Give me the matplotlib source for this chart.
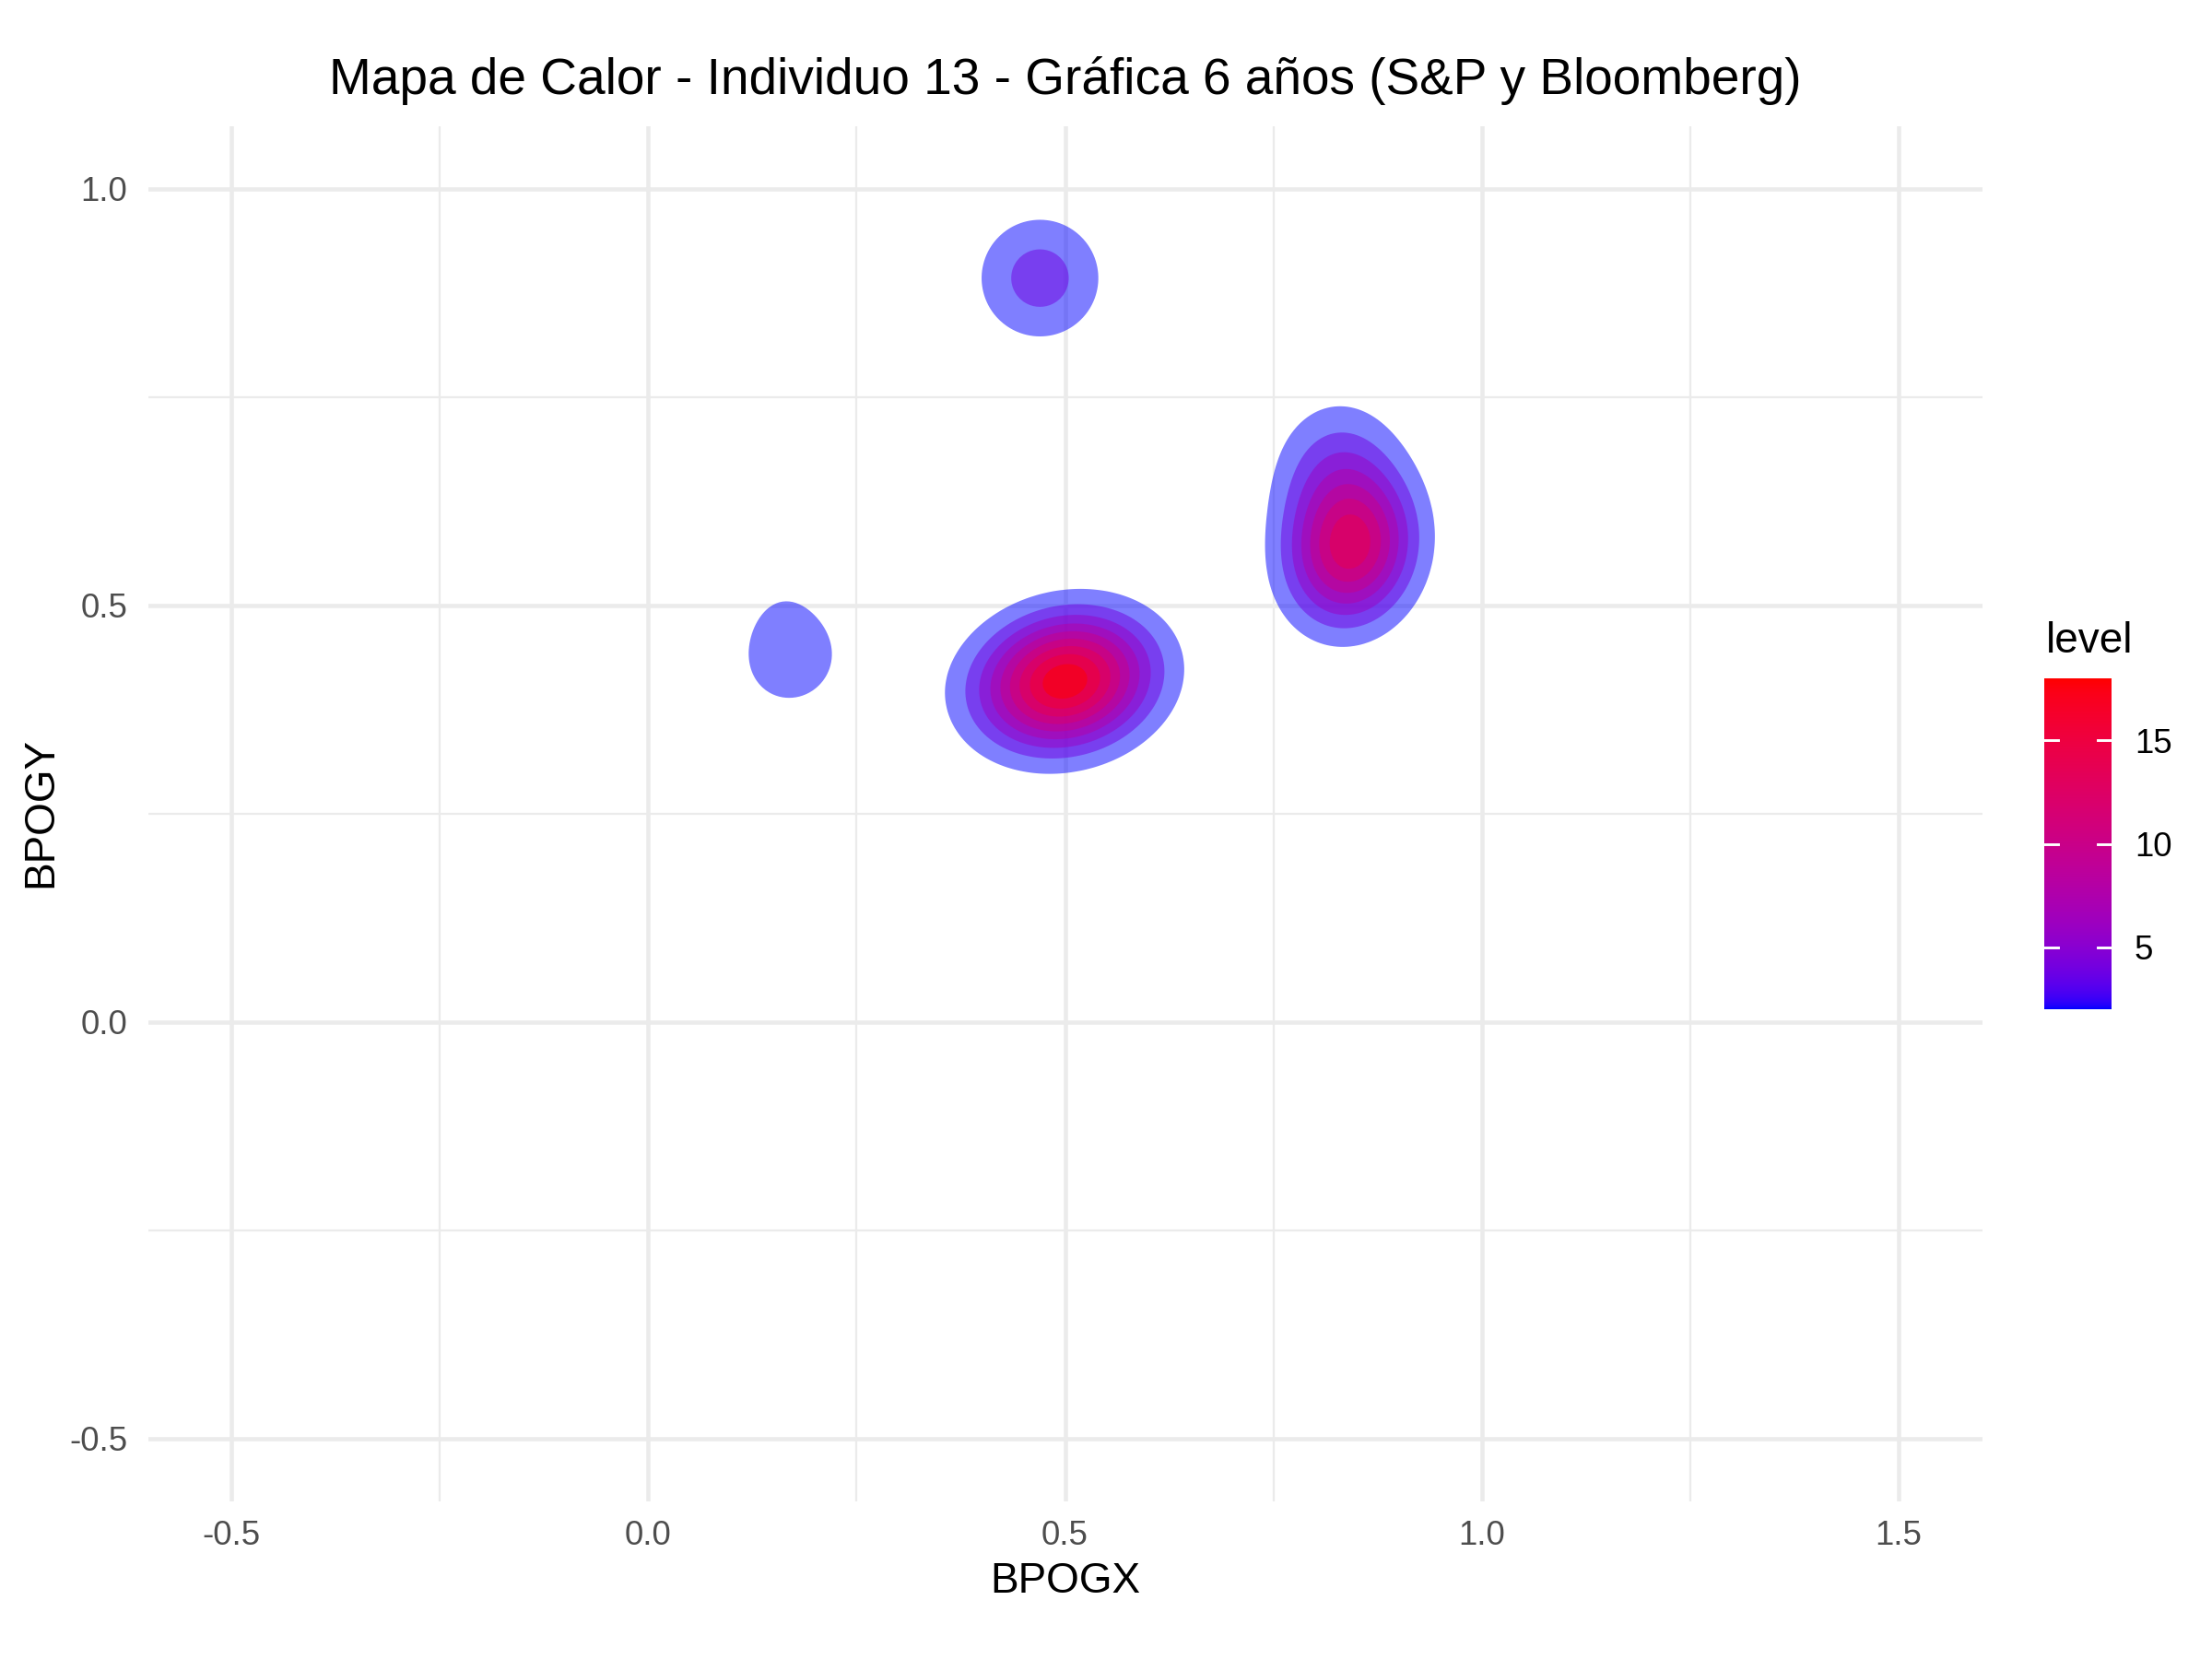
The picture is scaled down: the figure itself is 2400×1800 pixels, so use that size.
import numpy as np
import matplotlib
matplotlib.use("Agg")
import matplotlib.pyplot as plt

# ---------------- data ----------------
title_text = "Mapa de Calor - Individuo 13 - Gráfica 6 años (S&P y Bloomberg)"
x_label = "BPOGX"
y_label = "BPOGY"
legend_title = "level"

x_data_range = [-0.5, 1.5]
y_data_range = [-0.5, 1.0]
x_major_ticks = [-0.5, 0.0, 0.5, 1.0, 1.5]
x_minor_ticks = [-0.25, 0.25, 0.75, 1.25]
y_major_ticks = [-0.5, 0.0, 0.5, 1.0]
y_minor_ticks = [-0.25, 0.25, 0.75]
x_tick_labels = ["-0.5", "0.0", "0.5", "1.0", "1.5"]
y_tick_labels = ["-0.5", "0.0", "0.5", "1.0"]

# density components
blob_cx = [0.500, 0.843, 0.828, 0.470, 0.172, 0.160]
blob_cy = [0.409, 0.565, 0.655, 0.893, 0.437, 0.490]
blob_sx = [0.067, 0.050, 0.050, 0.0517, 0.070, 0.030]
blob_sy = [0.052, 0.058, 0.060, 0.0517, 0.070, 0.040]
blob_rho = [0.13, 0.10, 0.0, 0.0, 0.05, 0.0]
blob_peak = [19.5, 14.0, 5.0, 5.0, 2.5, 0.5]

contour_levels = [2, 4, 6, 8, 10, 12, 14, 16, 18]
level_range = [2, 18]
colorbar_ticks = [5, 10, 15]
low_color = "#0000FF"
high_color = "#FF0000"

# ---------------- colour helpers (CIELAB gradient like ggplot) ----------------
_M = np.array([[0.4124564, 0.3575761, 0.1804375],
               [0.2126729, 0.7151522, 0.0721750],
               [0.0193339, 0.1191920, 0.9503041]])
_Minv = np.linalg.inv(_M)
_WHITE = np.array([0.95047, 1.0, 1.08883])
_d = 6 / 29


def hex2rgb(h):
    h = h.lstrip("#")
    return np.array([int(h[i:i + 2], 16) / 255 for i in (0, 2, 4)])


def rgb2lab(rgb):
    lin = np.where(rgb <= 0.04045, rgb / 12.92, ((rgb + 0.055) / 1.055) ** 2.4)
    xyz = _M @ lin / _WHITE
    f = np.where(xyz > _d ** 3, np.cbrt(xyz), xyz / (3 * _d ** 2) + 4 / 29)
    return np.array([116 * f[1] - 16, 500 * (f[0] - f[1]), 200 * (f[1] - f[2])])


def lab2rgb(lab):
    fy = (lab[0] + 16) / 116
    fx = fy + lab[1] / 500
    fz = fy - lab[2] / 200
    f = np.array([fx, fy, fz])
    xyz = np.where(f > _d, f ** 3, 3 * _d ** 2 * (f - 4 / 29)) * _WHITE
    lin = _Minv @ xyz
    lin = np.clip(lin, 0, 1)
    rgb = np.where(lin <= 0.0031308, 12.92 * lin, 1.055 * lin ** (1 / 2.4) - 0.055)
    return np.clip(rgb, 0, 1)


LAB_LO = rgb2lab(hex2rgb(low_color))
LAB_HI = rgb2lab(hex2rgb(high_color))


def level_color(v):
    t = (v - level_range[0]) / (level_range[1] - level_range[0])
    t = min(max(t, 0.0), 1.0)
    return tuple(lab2rgb(LAB_LO + t * (LAB_HI - LAB_LO)))


# ---------------- density field ----------------
gx = np.linspace(x_data_range[0], x_data_range[1], 500)
gy = np.linspace(y_data_range[0], y_data_range[1], 400)
X, Y = np.meshgrid(gx, gy)
Z = np.zeros_like(X)
for cx, cy, sx, sy, r, pk in zip(blob_cx, blob_cy, blob_sx, blob_sy, blob_rho, blob_peak):
    dx = (X - cx) / sx
    dy = (Y - cy) / sy
    q = (dx ** 2 - 2 * r * dx * dy + dy ** 2) / (1 - r ** 2)
    Z += pk * np.exp(-0.5 * q)

# ---------------- figure ----------------
plt.rcParams["font.family"] = ["Liberation Sans", "DejaVu Sans"]
fig = plt.figure(figsize=(8, 6), dpi=300)
fig.patch.set_facecolor("white")

ax = fig.add_axes([160.5 / 2400, (1800 - 1628.8) / 1800, 1990 / 2400, 1491.6 / 1800])
ax.set_facecolor("white")
ax.set_xlim(-0.6, 1.6)
ax.set_ylim(-0.575, 1.075)

grid_col = "#EBEBEB"
for v in x_minor_ticks:
    ax.axvline(v, color=grid_col, lw=0.55, zorder=0)
for v in y_minor_ticks:
    ax.axhline(v, color=grid_col, lw=0.55, zorder=0)
for v in x_major_ticks:
    ax.axvline(v, color=grid_col, lw=1.1, zorder=0)
for v in y_major_ticks:
    ax.axhline(v, color=grid_col, lw=1.1, zorder=0)

zmax = Z.max()
for L in contour_levels:
    if zmax >= L:
        ax.contourf(X, Y, Z, levels=[L, zmax + 1], colors=[level_color(L)],
                    alpha=0.5, antialiased=True, zorder=2)

for s in ax.spines.values():
    s.set_visible(False)
ax.set_xticks(x_major_ticks)
ax.set_xticklabels(x_tick_labels)
ax.set_yticks(y_major_ticks)
ax.set_yticklabels(y_tick_labels)
ax.tick_params(axis="x", length=0, pad=4.8, labelsize=8.8, labelcolor="#4D4D4D")
ax.tick_params(axis="y", length=0, pad=5.3, labelsize=8.8, labelcolor="#4D4D4D")

fig.text(1155.5 / 2400, (1800 - 101.7) / 1800, title_text, ha="center", va="baseline",
         fontsize=13.2, color="black")
fig.text(1155.5 / 2400, (1800 - 1728.3) / 1800, x_label, ha="center", va="baseline",
         fontsize=11, color="black")
fig.text(56 / 2400, (1800 - 881.7) / 1800, y_label, ha="center", va="baseline",
         rotation=90, rotation_mode="anchor", fontsize=11, color="black")

# ---------------- colour bar legend ----------------
cax = fig.add_axes([2218 / 2400, (1800 - 1095) / 1800, 73 / 2400, 359 / 1800])
vals = np.linspace(level_range[0], level_range[1], 400)
grad = np.array([level_color(v) for v in vals])[:, None, :]
cax.imshow(grad, extent=[0, 1, level_range[0], level_range[1]], origin="lower",
           aspect="auto", interpolation="bilinear")
cax.set_xlim(0, 1)
cax.set_ylim(level_range[0], level_range[1])
for t in colorbar_ticks:
    cax.plot([0, 0.2], [t, t], color="white", lw=0.7)
    cax.plot([0.8, 1.0], [t, t], color="white", lw=0.7)
for s in cax.spines.values():
    s.set_visible(False)
cax.set_xticks([])
cax.yaxis.set_ticks_position("right")
cax.set_yticks(colorbar_ticks)
cax.set_yticklabels([str(t) for t in colorbar_ticks])
cax.tick_params(axis="y", length=0, pad=6, labelsize=8.8, labelcolor="black")

fig.text(2220 / 2400, (1800 - 708) / 1800, legend_title, ha="left", va="baseline",
         fontsize=11, color="black")

fig.savefig("out.png", dpi=300, facecolor="white")
